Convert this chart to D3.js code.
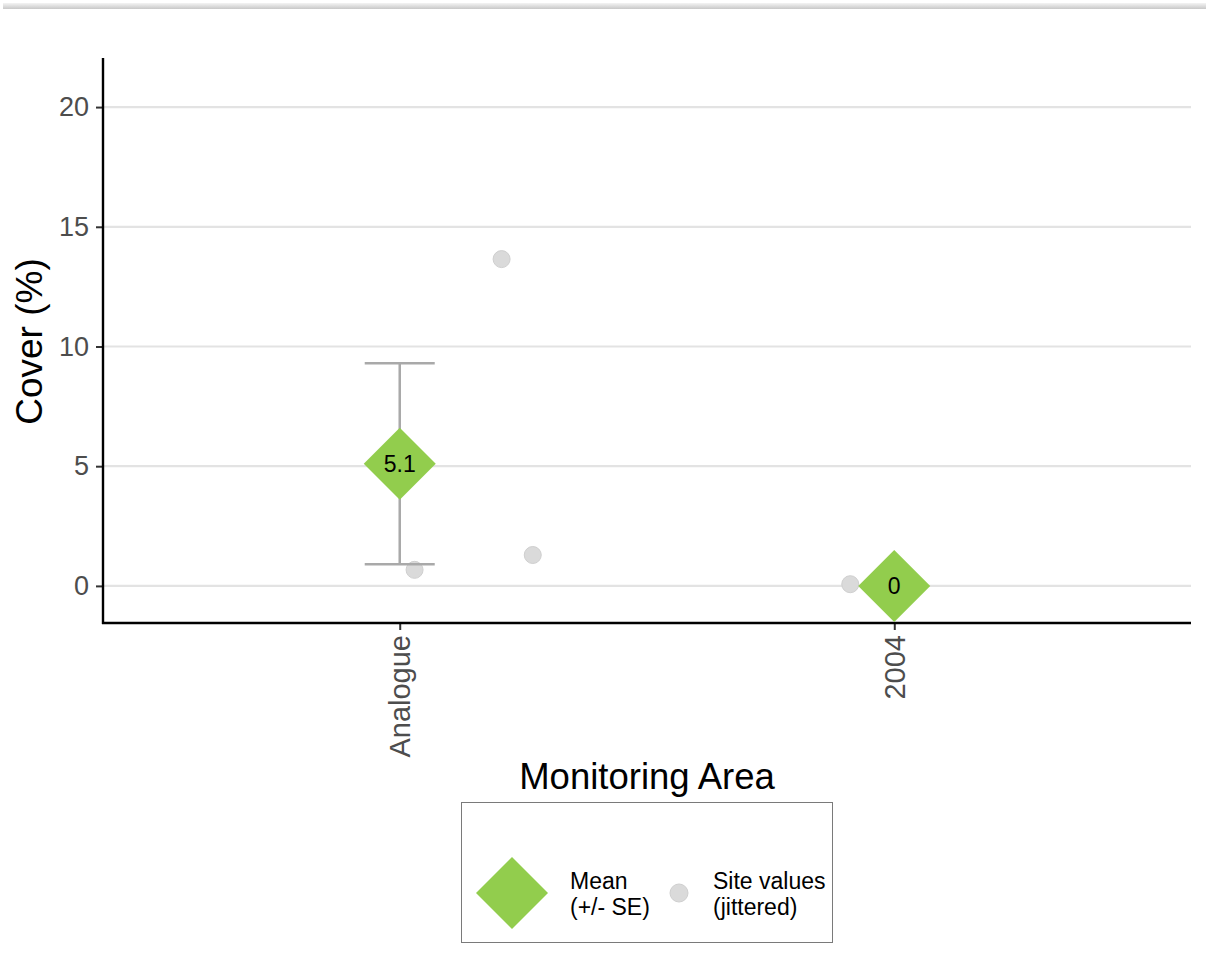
<!DOCTYPE html>
<html>
<head>
<meta charset="utf-8">
<script src="https://cdn.jsdelivr.net/npm/d3@7"></script>
<style>
  html, body { margin: 0; padding: 0; background: #fff; }
  svg { display: block; font-family: "Liberation Sans", Arial, sans-serif; }
</style>
</head>
<body>
<svg id="chart" width="1206" height="954"></svg>
<script>
// Monitoring areas and summary statistics
const areas = ["Analogue", "2004"];
const meanValues = [5.1, 0];
const seLower = [0.9, 0];
const seUpper = [9.3, 0];
const meanLabels = ["5.1", "0"];

// Individual site values (jittered horizontally within each area)
const siteArea = ["Analogue", "Analogue", "Analogue", "2004"];
const siteValue = [0.67, 13.65, 1.29, 0.07];
const siteJitter = [0.03, 0.206, 0.269, -0.089];

const yTicks = [0, 5, 10, 15, 20];

const svg = d3.select("#chart");
const W = 1206, H = 954;
const FONT = "Liberation Sans, Arial, sans-serif";

// thin shaded strip along the top edge
const defs = svg.append("defs");
const grad = defs.append("linearGradient").attr("id", "topShade")
  .attr("x1", 0).attr("y1", 0).attr("x2", 0).attr("y2", 1);
grad.append("stop").attr("offset", "0%").attr("stop-color", "#f4f4f4");
grad.append("stop").attr("offset", "100%").attr("stop-color", "#c8c8c8");
svg.append("rect").attr("x", 3).attr("y", 3).attr("width", W - 3).attr("height", 6)
  .attr("fill", "url(#topShade)");

const panel = { left: 103, right: 1191, top: 58, bottom: 623 };

const y = d3.scaleLinear().domain([-1.55, 22.05]).range([panel.bottom, panel.top]);
const xBand = d3.scalePoint().domain(areas).range([panel.left, panel.right]).padding(0.6);
const step = xBand.step();
const xPos = (a, j) => xBand(a) + (j || 0) * step;

// horizontal gridlines
svg.append("g").selectAll("line").data(yTicks).join("line")
  .attr("x1", panel.left).attr("x2", panel.right)
  .attr("y1", d => y(d)).attr("y2", d => y(d))
  .attr("stroke", "#e3e3e3").attr("stroke-width", 2.2);

// y axis
const yAxis = svg.append("g").attr("transform", `translate(${panel.left},0)`)
  .call(d3.axisLeft(y).tickValues(yTicks).tickSize(7).tickPadding(7));
yAxis.select(".domain").remove();
yAxis.selectAll(".tick line").attr("stroke", "#333").attr("stroke-width", 2);
yAxis.selectAll(".tick text").attr("fill", "#4d4d4d").style("font-size", "27px")
  .attr("font-family", FONT);
svg.append("line").attr("x1", panel.left).attr("x2", panel.left)
  .attr("y1", panel.top).attr("y2", panel.bottom + 1)
  .attr("stroke", "#000").attr("stroke-width", 2.4);

// x axis
const xAxis = svg.append("g").attr("transform", `translate(0,${panel.bottom})`)
  .call(d3.axisBottom(xBand).tickSize(7).tickPadding(3));
xAxis.select(".domain").remove();
xAxis.selectAll(".tick line").attr("stroke", "#333").attr("stroke-width", 2);
xAxis.selectAll(".tick text")
  .attr("fill", "#4d4d4d").style("font-size", "29px")
  .attr("font-family", FONT)
  .attr("transform", "rotate(-90)")
  .attr("text-anchor", "end")
  .attr("x", -12).attr("y", 0).attr("dy", "0.35em");
svg.append("line").attr("x1", panel.left - 1).attr("x2", panel.right)
  .attr("y1", panel.bottom).attr("y2", panel.bottom)
  .attr("stroke", "#000").attr("stroke-width", 2.4);

// axis titles
svg.append("text").attr("transform", `translate(42,${(panel.top + panel.bottom) / 2 + 1}) rotate(-90)`)
  .attr("text-anchor", "middle").style("font-size", "37px").attr("fill", "#000")
  .text("Cover (%)");
svg.append("text").attr("x", (panel.left + panel.right) / 2).attr("y", 789)
  .attr("text-anchor", "middle").style("font-size", "36.5px").attr("fill", "#000")
  .text("Monitoring Area");

// site values
svg.append("g").selectAll("circle").data(siteValue).join("circle")
  .attr("cx", (d, i) => xPos(siteArea[i], siteJitter[i]))
  .attr("cy", d => y(d))
  .attr("r", 8.5)
  .attr("fill", "#dadada").attr("stroke", "#cfcfcf").attr("stroke-width", 1);

// standard-error bars
const capHalf = 35;
const eb = svg.append("g").attr("stroke", "#a9a9a9").attr("stroke-width", 2.5);
areas.forEach((a, i) => {
  if (seUpper[i] === seLower[i]) return;
  const cx = xPos(a);
  eb.append("line").attr("x1", cx).attr("x2", cx).attr("y1", y(seLower[i])).attr("y2", y(seUpper[i]));
  eb.append("line").attr("x1", cx - capHalf).attr("x2", cx + capHalf).attr("y1", y(seUpper[i])).attr("y2", y(seUpper[i]));
  eb.append("line").attr("x1", cx - capHalf).attr("x2", cx + capHalf).attr("y1", y(seLower[i])).attr("y2", y(seLower[i]));
});

// mean diamonds with labels
const dHalf = 36;
const diamond = (cx, cy, h) => `M${cx},${cy - h}L${cx + h},${cy}L${cx},${cy + h}L${cx - h},${cy}Z`;
svg.append("g").selectAll("path").data(meanValues).join("path")
  .attr("d", (d, i) => diamond(xPos(areas[i]), y(d), dHalf))
  .attr("fill", "#92cd4d");
svg.append("g").selectAll("text").data(meanValues).join("text")
  .attr("x", (d, i) => xPos(areas[i]))
  .attr("y", d => y(d))
  .attr("dy", "0.36em")
  .attr("text-anchor", "middle").style("font-size", "23px").attr("fill", "#000")
  .text((d, i) => meanLabels[i]);

// legend
const lg = svg.append("g");
lg.append("rect").attr("x", 461.5).attr("y", 802.5).attr("width", 371).attr("height", 140)
  .attr("fill", "#fff").attr("stroke", "#7a7a7a").attr("stroke-width", 1);
lg.append("path").attr("d", diamond(512, 893, 36)).attr("fill", "#92cd4d");
const t1 = lg.append("text").attr("x", 570).attr("y", 889).style("font-size", "23px").attr("fill", "#000");
t1.append("tspan").attr("x", 570).attr("dy", 0).text("Mean");
t1.append("tspan").attr("x", 570).attr("dy", 26).text("(+/- SE)");
lg.append("circle").attr("cx", 679).attr("cy", 893).attr("r", 9)
  .attr("fill", "#dadada").attr("stroke", "#cfcfcf");
const t2 = lg.append("text").attr("x", 713).attr("y", 889).style("font-size", "23px").attr("fill", "#000");
t2.append("tspan").attr("x", 713).attr("dy", 0).text("Site values");
t2.append("tspan").attr("x", 713).attr("dy", 26).text("(jittered)");
</script>
</body>
</html>
